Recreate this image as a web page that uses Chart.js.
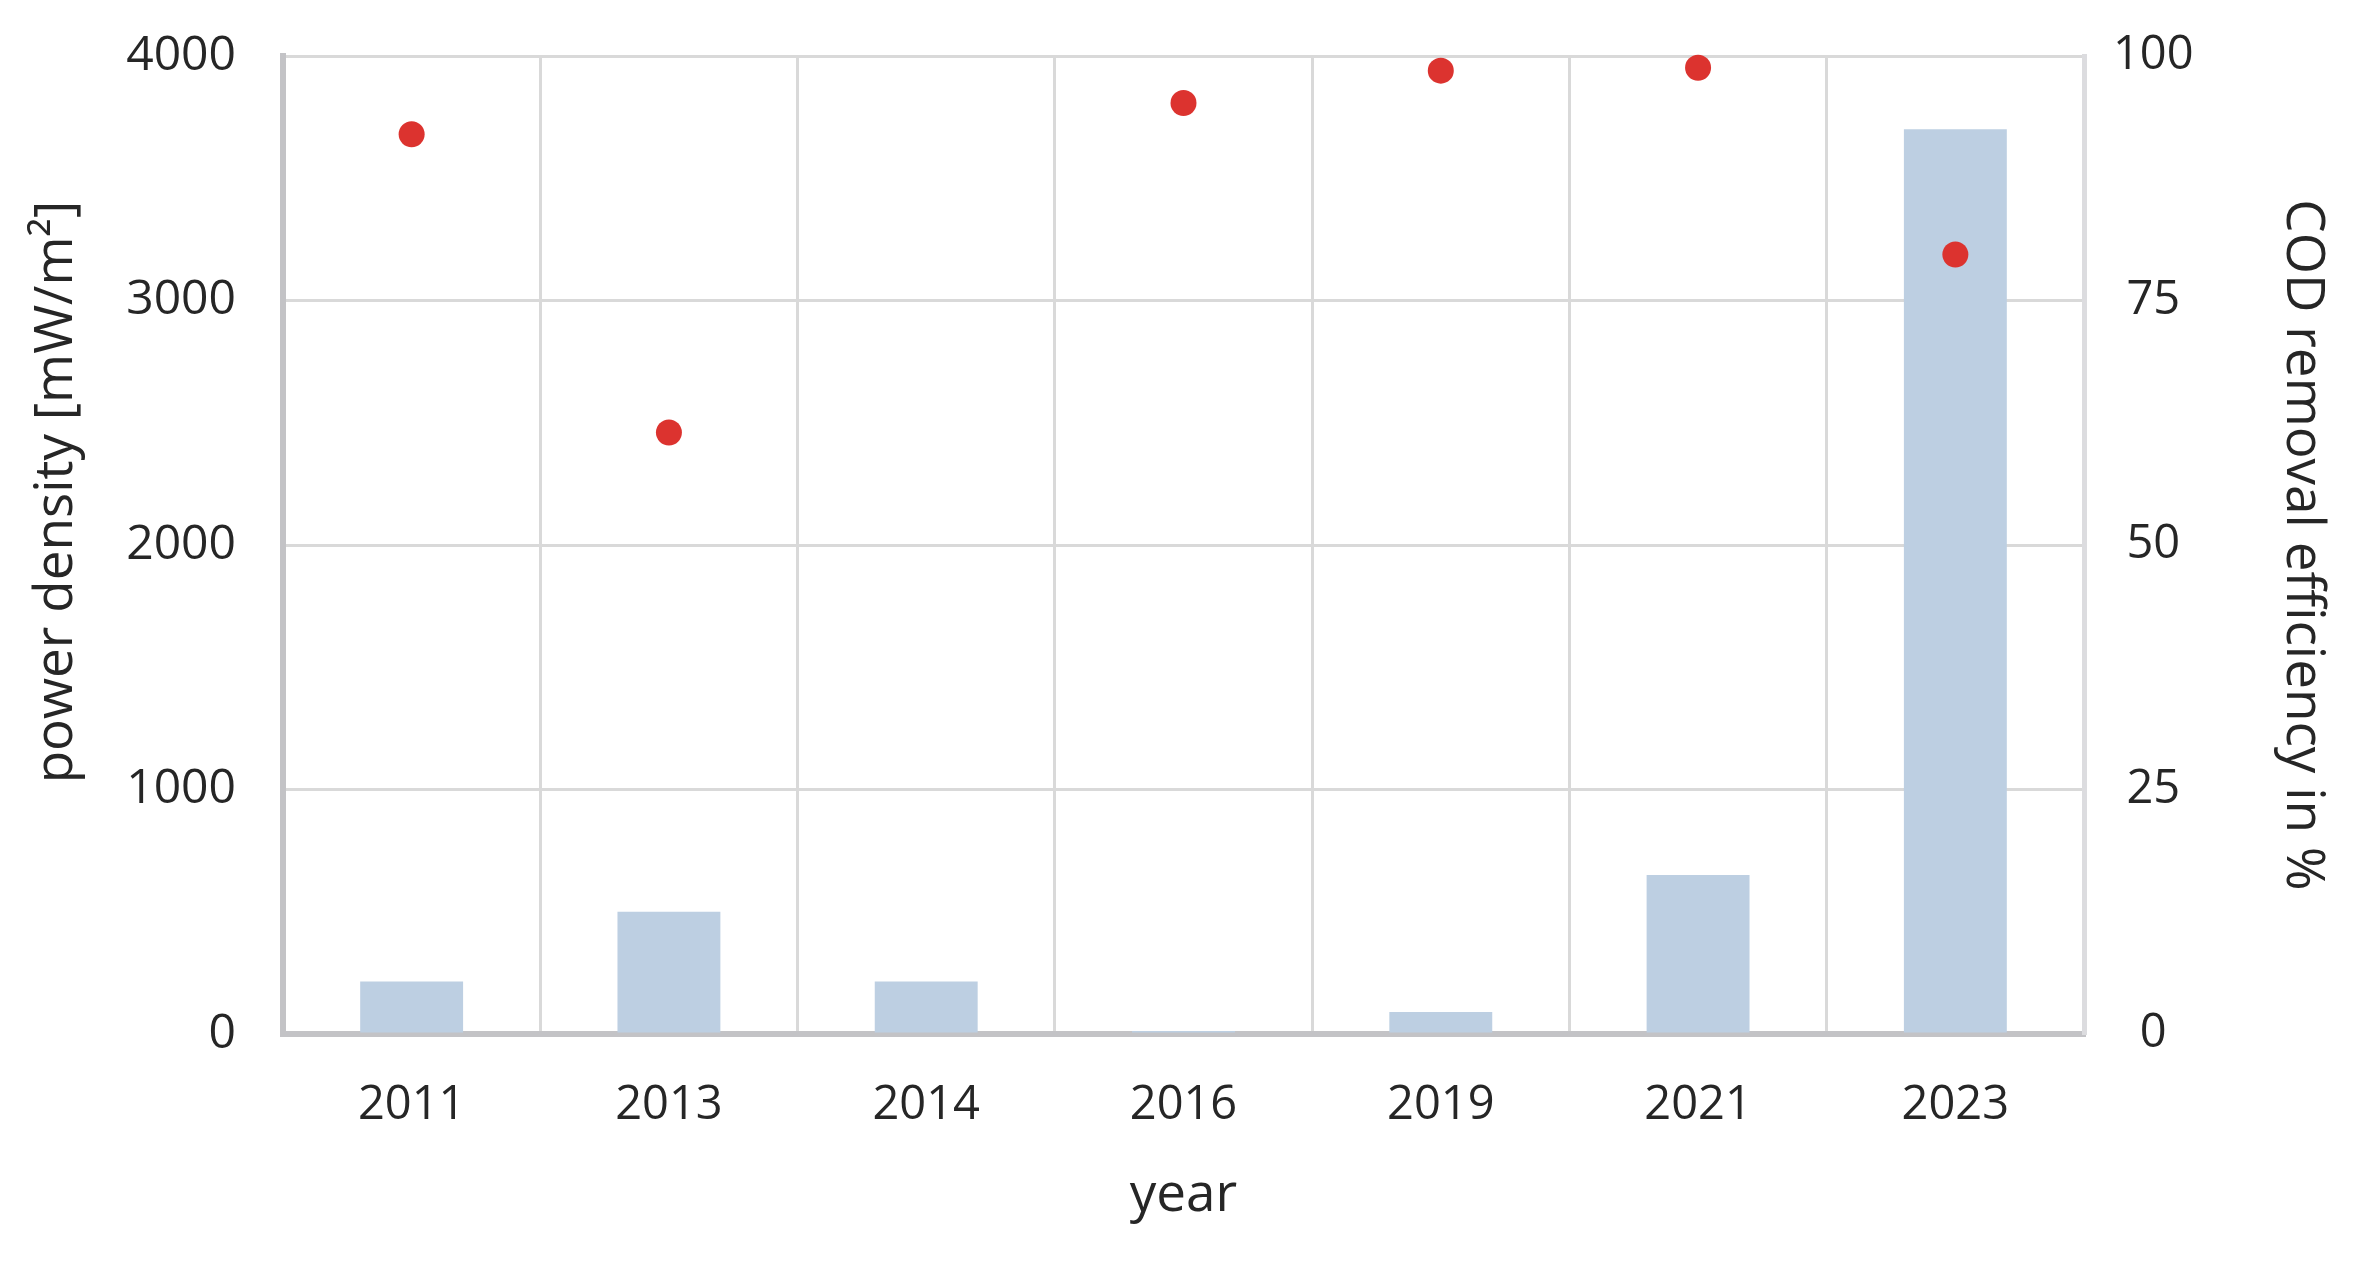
<!DOCTYPE html>
<html>
<head>
<meta charset="utf-8">
<script src="https://cdn.jsdelivr.net/npm/chart.js@4.4.0/dist/chart.umd.min.js"></script>
<style>
  html, body { margin: 0; padding: 0; background: #fff; }
  #wrap { width: 2359px; height: 1264px; }
</style>
</head>
<body>
<div id="wrap"><canvas id="myChart" width="2359" height="1264"></canvas></div>
<script>
// data
const years = ["2011", "2013", "2014", "2016", "2019", "2021", "2023"];
const powerDensity = [215, 500, 215, 12, 90, 650, 3700]; // mW/m2
const codRemoval = [92, 61.5, null, 95.2, 98.5, 98.8, 79.7]; // %
const leftTicks = [0, 1000, 2000, 3000, 4000];
const rightTicks = [0, 25, 50, 75, 100];

const fontFam = "'Open Sans', 'DejaVu Sans', sans-serif";
const txt = "#262626";
const noTick = "rgba(0,0,0,0)";

const ctx = document.getElementById("myChart").getContext("2d");

const chart = new Chart(ctx, {
  type: "bar",
  data: {
    labels: years,
    datasets: [
      {
        type: "line",
        label: "COD removal efficiency",
        data: codRemoval,
        yAxisID: "y1",
        showLine: false,
        pointRadius: 13,
        pointBackgroundColor: "#dc332f",
        pointBorderWidth: 0,
        clip: false,
        order: 1,
      },
      {
        label: "power density",
        data: powerDensity,
        yAxisID: "y",
        backgroundColor: "#bdcfe2",
        barPercentage: 0.4,
        categoryPercentage: 1.0,
        order: 2,
      },
    ],
  },
  options: {
    responsive: false,
    animation: false,
    layout: { padding: { left: 0, right: 0, top: 56, bottom: 0 } },
    plugins: {
      legend: { display: false },
      tooltip: { enabled: false },
    },
    scales: {
      x: {
        afterFit: (s) => { s.height = 230; },
        grid: { offset: true, color: "#d9d9d9", lineWidth: 3, drawTicks: false },
        border: { color: "#c3c3c6", width: 6 },
        ticks: { color: txt, font: { family: fontFam, size: 47 }, padding: 43 },
        title: {
          display: true,
          text: "year",
          color: txt,
          font: { family: fontFam, size: 53 },
          padding: { top: 0, bottom: 36 },
        },
      },
      y: {
        position: "left",
        min: 0,
        max: 4000,
        afterFit: (s) => { s.width = 283; },
        afterBuildTicks: (axis) => { axis.ticks = leftTicks.map((v) => ({ value: v })); },
        grid: { color: "#d9d9d9", lineWidth: 3, drawTicks: true, tickLength: 47, tickColor: noTick },
        border: { color: "#c3c3c6", width: 6 },
        ticks: {
          color: txt,
          font: { family: fontFam, size: 48 },
          padding: 0,
          callback: (v) => String(v),
        },
        title: {
          display: true,
          // two em spaces lift the title a little above centre, as in the figure
          text: "\u2003\u2003power density [mW/m²]",
          color: txt,
          font: { family: fontFam, size: 53 },
          padding: { top: 25, bottom: 0 },
        },
      },
      y1: {
        position: "right",
        min: 0,
        max: 100,
        afterFit: (s) => { s.width = 275; },
        afterBuildTicks: (axis) => { axis.ticks = rightTicks.map((v) => ({ value: v })); },
        grid: { drawOnChartArea: false, drawTicks: true, tickLength: 29, tickColor: noTick },
        border: { color: "#dcdcdf", width: 5 },
        ticks: {
          color: txt,
          font: { family: fontFam, size: 47 },
          padding: 0,
          crossAlign: "center",
          callback: (v) => String(v),
        },
        title: {
          display: true,
          text: "COD removal efficiency in %",
          color: txt,
          font: { family: fontFam, size: 53 },
          padding: { top: 25, bottom: 0 },
        },
      },
    },
  },
});
</script>
</body>
</html>
